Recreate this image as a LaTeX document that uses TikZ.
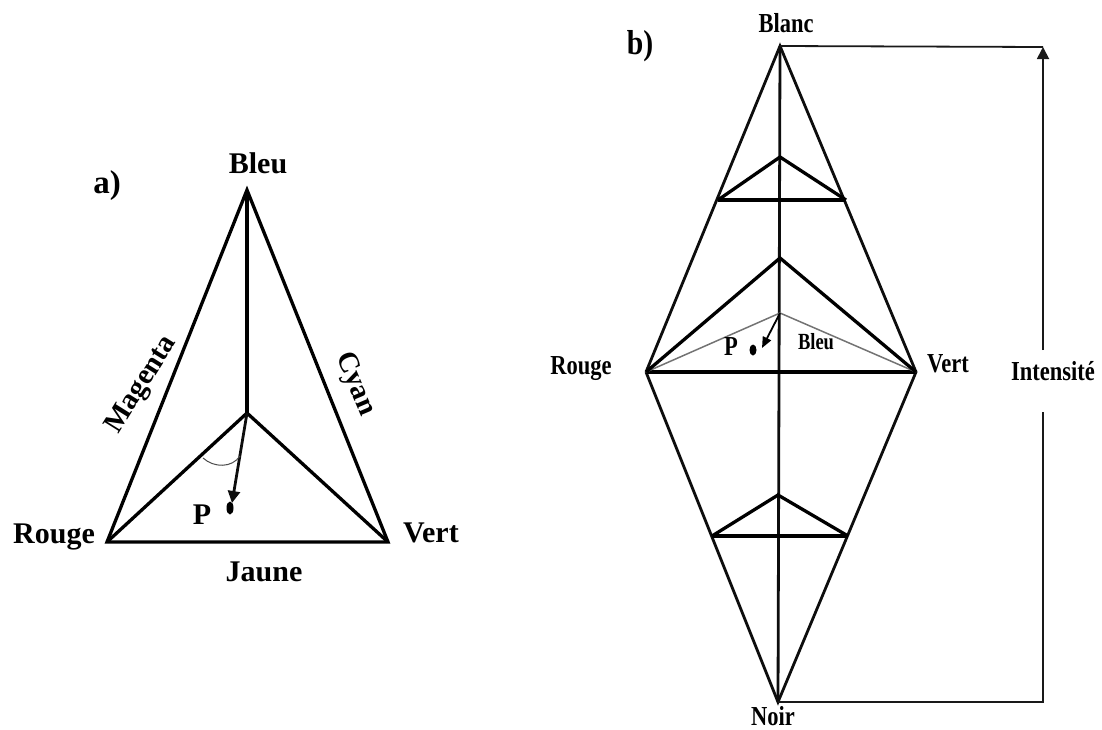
\documentclass[tikz,border=0pt]{standalone}
\usepackage{fontspec}
\setmainfont{Liberation Serif}
\usetikzlibrary{arrows.meta,shapes.geometric}
\tikzset{
  thickline/.style={line width=3.3pt,line join=miter,miter limit=3,black},
  medline/.style={line width=2.8pt,line join=miter,miter limit=3,black!95},
  thinline/.style={line width=1.8pt,black!90},
  grayline/.style={line width=1.5pt,black!55},
  big/.style={font=\bfseries\fontsize{30}{32}\selectfont,inner sep=0pt},
  mid/.style={font=\bfseries\fontsize{22.5}{26}\selectfont,inner sep=0pt,yscale=1.22},
  small/.style={font=\bfseries\fontsize{18.5}{22}\selectfont,inner sep=0pt,yscale=1.25},
  head/.style={font=\bfseries\fontsize{33}{36}\selectfont,inner sep=0pt},
  arr/.style={-{Triangle[length=12pt,width=12pt]}},
  sarr/.style={-{Triangle[length=11pt,width=9pt]}},
}
\begin{document}
\begin{tikzpicture}[x=1pt,y=-1pt]
\useasboundingbox (0,0) rectangle (1102,729);
% ---- a)
\coordinate (B) at (247,190);
\coordinate (C) at (247,413);
\coordinate (R) at (107,542);
\coordinate (V) at (388,542);
\coordinate (Pa) at (232,503);
\draw[thickline] (R) -- (B) -- (V) -- cycle;
\draw[thickline] (B) -- (C);
\draw[thickline] (R) -- (C) -- (V);
\draw[medline,arr] (C) -- (Pa);
\node[fill=black,ellipse,minimum width=7pt,minimum height=13pt,inner sep=0pt] (dota) at (230,508) {};
\draw[line width=1pt,black!70] (203,458) .. controls (214,468) and (232,468) .. (240,456);
\node[big] (lbleu) at (258,163) {Bleu};
\node[head] (la) at (107,186) {a)};
\node[big] (lroug) at (54,537) {Rouge};
\node[big] (lvert) at (431,533) {Vert};
\node[big] (ljaun) at (264,572) {Jaune};
\node[big] (lp) at (202,515) {P};
\node[font=\bfseries\fontsize{29}{32}\selectfont,inner sep=0pt,rotate=58] (lmag) at (142,385) {Magenta};
\node[font=\bfseries\fontsize{29}{32}\selectfont,inner sep=0pt,rotate=-67] (lcyan) at (355,384) {Cyan};
% ---- b)
\coordinate (W) at (780,46);
\coordinate (N) at (778,702);
\coordinate (R2) at (646,372);
\coordinate (V2) at (916,372);
\coordinate (T1) at (780,157);
\coordinate (T2) at (718,200);
\coordinate (T3) at (846,200);
\coordinate (M) at (780,258);
\coordinate (G) at (780,313);
\coordinate (L1) at (778,495);
\coordinate (L2) at (712,536);
\coordinate (L3) at (848,536);
\coordinate (E1) at (1043,47);
\coordinate (E2) at (1043,702);
\coordinate (S1) at (1043,350);
\coordinate (S2) at (1043,412);
\coordinate (Pb) at (762,348);
\draw[medline] (R2) -- (W) -- (V2) -- (N) -- (R2);
\draw[medline] (W) -- (N);
\draw[thickline] (R2) -- (V2);
\draw[grayline] (R2) -- (G) -- (V2);
\draw[thickline] (R2) -- (M) -- (V2);
\draw[thickline] (T2) -- (T1) -- (T3);
\draw[thickline] (T2) -- (T3);
\draw[thickline] (L2) -- (L1) -- (L3);
\draw[thickline] (L2) -- (L3);
\draw[line width=1.8pt,black,sarr] (G) -- (Pb);
\node[fill=black,ellipse,minimum width=7pt,minimum height=11pt,inner sep=0pt] (dotb) at (753,350) {};
\draw[thinline] (W) -- (E1);
\draw[thinline,arr] (S1) -- (E1);
\draw[thinline] (S2) -- (E2) -- (N);
\node[head,xscale=.9,yscale=1.05] (lb) at (640,46) {b)};
\node[mid] (lblanc) at (786,23) {Blanc};
\node[mid] (lnoir) at (773,716) {Noir};
\node[mid] (lrouge) at (581,369) {Rouge};
\node[mid] (lvert2) at (948,364) {Vert};
\node[mid] (lint) at (1053,371) {Intensité};
\node[mid] (lp2) at (731,347) {P};
\node[small] (lbleu2) at (816,342) {Bleu};
\end{tikzpicture}
\end{document}
